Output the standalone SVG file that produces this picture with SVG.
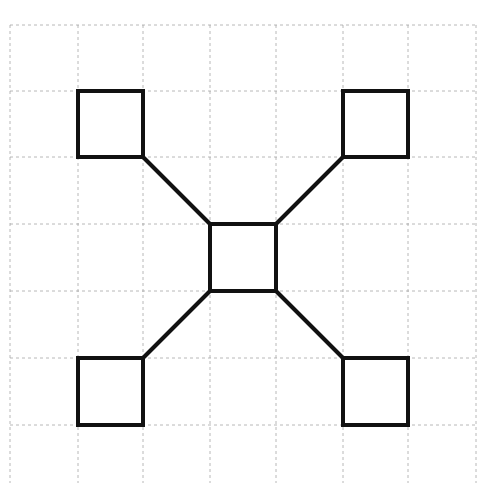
<svg xmlns="http://www.w3.org/2000/svg" width="486" height="483" viewBox="0 0 486 483">
<style>
.grid line{stroke:#9a9a9a;stroke-width:1;stroke-dasharray:3 3;opacity:0.7}
.box{fill:none;stroke:#111;stroke-width:4}
.conn line{stroke:#111;stroke-width:4;stroke-linecap:round}
</style>
<rect width="486" height="483" fill="#fff"/>
<g class="grid">
<line x1="10" y1="25" x2="10" y2="483"/>
<line x1="78" y1="25" x2="78" y2="483"/>
<line x1="143" y1="25" x2="143" y2="483"/>
<line x1="210" y1="25" x2="210" y2="483"/>
<line x1="276" y1="25" x2="276" y2="483"/>
<line x1="343" y1="25" x2="343" y2="483"/>
<line x1="408" y1="25" x2="408" y2="483"/>
<line x1="476" y1="25" x2="476" y2="483"/>
<line x1="10" y1="25" x2="476" y2="25"/>
<line x1="10" y1="91" x2="476" y2="91"/>
<line x1="10" y1="157" x2="476" y2="157"/>
<line x1="10" y1="224" x2="476" y2="224"/>
<line x1="10" y1="291" x2="476" y2="291"/>
<line x1="10" y1="358" x2="476" y2="358"/>
<line x1="10" y1="425" x2="476" y2="425"/>
</g>
<g class="conn">
<line x1="143" y1="157" x2="210" y2="224"/>
<line x1="343" y1="157" x2="276" y2="224"/>
<line x1="143" y1="358" x2="210" y2="291"/>
<line x1="343" y1="358" x2="276" y2="291"/>
</g>
<g id="tl"><rect class="box" x="78" y="91" width="65" height="66"/></g>
<g id="tr"><rect class="box" x="343" y="91" width="65" height="66"/></g>
<g id="center"><rect class="box" x="210" y="224" width="66" height="67"/></g>
<g id="bl"><rect class="box" x="78" y="358" width="65" height="67"/></g>
<g id="br"><rect class="box" x="343" y="358" width="65" height="67"/></g>
</svg>
